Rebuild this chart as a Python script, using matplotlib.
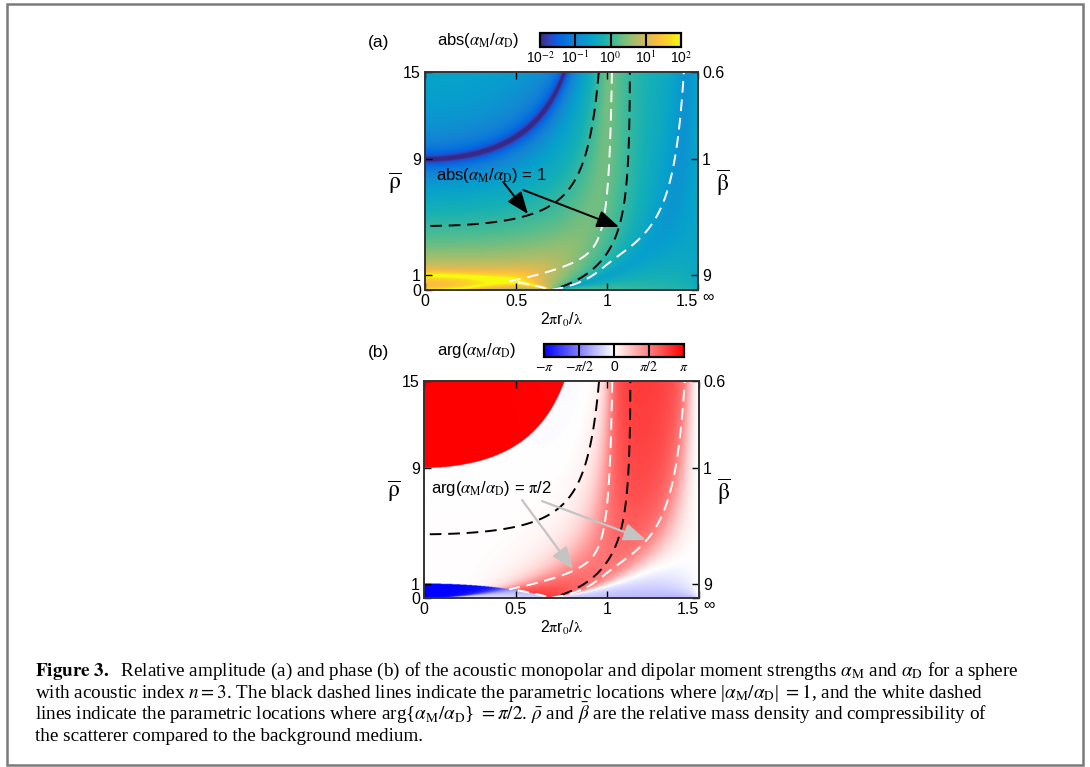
import numpy as np
import matplotlib
matplotlib.use("Agg")
import matplotlib.pyplot as plt
from matplotlib.colors import LinearSegmentedColormap, LogNorm, Normalize
from matplotlib.patches import Rectangle
from matplotlib.ticker import NullLocator

plt.rcParams['font.family'] = ['Liberation Sans', 'DejaVu Sans']
plt.rcParams['mathtext.fontset'] = 'stix'

# ---- sphere / axes parameters
n_index = 3.0                 # acoustic index, beta = n^2 / rho
size_lim = (0.0, 1.5)         # 2*pi*r0/lambda
rho_lim = (0.0, 15.0)
n_size = 600
n_rho = 600

size_ticks = [0, 0.5, 1, 1.5]
size_labels = ['0', '0.5', '1', '1.5']
rho_ticks = [0, 1, 9, 15]
rho_labels = ['0', '1', '9', '15']
beta_labels = ['\u221e', '9', '1', '0.6']

abs_ticks = [1e-2, 1e-1, 1e0, 1e1, 1e2]
abs_labels = ['10$^{-2}$', '10$^{-1}$', '10$^{0}$', '10$^{1}$', '10$^{2}$']
arg_ticks = [-np.pi, -np.pi / 2, 0, np.pi / 2, np.pi]
arg_labels = [r'$-\pi$', r'$-\pi/2$', '0', r'$\pi/2$', r'$\pi$']

# parula (subsampled)
parula_pos = [0, 4, 7, 10, 16, 22, 28, 34, 40, 46, 52, 55, 58, 63]
parula_rgb = [(0.2081, 0.1663, 0.5292), (0.1959, 0.2645, 0.7279), (0.0591, 0.3598, 0.8683),
              (0.0165, 0.4266, 0.8786), (0.0793, 0.5200, 0.8312), (0.0239, 0.6287, 0.8038),
              (0.0843, 0.6928, 0.7062), (0.3022, 0.7376, 0.5712), (0.5709, 0.7485, 0.4494),
              (0.7858, 0.7356, 0.3633), (0.9739, 0.7314, 0.2666), (0.9955, 0.7861, 0.1967),
              (0.9697, 0.8481, 0.1475), (0.9763, 0.9831, 0.0538)]
parula = LinearSegmentedColormap.from_list(
    'parula', list(zip([p / 63 for p in parula_pos], parula_rgb)))

# arrows (data coords): (tail, head)
arrows_a = [((0.43, 7.43), (0.566, 5.23)), ((0.54, 6.88), (1.066, 4.34))]
arrows_b = [((0.535, 6.77), (0.813, 1.99)), ((0.644, 6.70), (1.211, 4.01))]

amd = r'$\alpha_{\rm M}$/$\alpha_{\rm D}$'
caption = [
    r'$\mathbf{Figure\ 3.}$  Relative amplitude (a) and phase (b) of the acoustic monopolar and dipolar moment strengths $\alpha_{\rm M}$ and $\alpha_{\rm D}$ for a sphere',
    r'with acoustic index $n = 3$. The black dashed lines indicate the parametric locations where |$\alpha_{\rm M}/\alpha_{\rm D}$| $= 1$, and the white dashed',
    r'lines indicate the parametric locations where arg{$\alpha_{\rm M}/\alpha_{\rm D}$} $= \pi/2$. $\bar{\rho}$ and $\bar{\beta}$ are the relative mass density and compressibility of',
    r'the scatterer compared to the background medium.',
]
caption_y = [676, 697.6, 719.6, 741]


# ---- monopole / dipole Mie coefficients of a fluid sphere
def sph01(z):
    s, c = np.sin(z), np.cos(z)
    j0 = s / z
    j1 = s / z**2 - c / z
    y0 = -c / z
    y1 = -c / z**2 - s / z
    return j0, j1, y0, y1


x = np.linspace(1e-3, size_lim[1], n_size)
rho = np.linspace(0.01, rho_lim[1], n_rho)
X, R = np.meshgrid(x, rho)
Y = n_index * X
g = n_index / R

j0x, j1x, y0x, y1x = sph01(X)
j0y, j1y, _, _ = sph01(Y)
h0x = j0x + 1j * y0x
h1x = j1x + 1j * y1x
dj0x, dj0y, dh0x = -j1x, -j1y, -h1x
dj1x = j0x - 2 * j1x / X
dj1y = j0y - 2 * j1y / Y
dh1x = h0x - 2 * h1x / X

a0 = (g * dj0y * j0x - dj0x * j0y) / (dh0x * j0y - g * dj0y * h0x)
a1 = (g * dj1y * j1x - dj1x * j1y) / (dh1x * j1y - g * dj1y * h1x)
ratio = a0 / (3 * a1)
amp = np.abs(ratio)
phase = np.angle(ratio)
amp_masked = np.ma.masked_where(R < 0.2, amp)
phase_masked = np.ma.masked_where(amp < 0.05, phase)

# ---- figure
fig = plt.figure(figsize=(10.9, 7.67), dpi=100)
fig.patches.append(Rectangle((0.0064, 0.0026), 0.9872, 0.9922, transform=fig.transFigure,
                             fill=False, ec='#7a7a7a', lw=1.8))

ax_a = fig.add_axes([0.3899, 0.6219, 0.2505, 0.2842])
ax_b = fig.add_axes([0.3890, 0.2203, 0.2523, 0.2829])
cax_a = fig.add_axes([0.4954, 0.9387, 0.1294, 0.0183])
cax_b = fig.add_axes([0.4991, 0.5346, 0.1284, 0.0170])

extent = [x[0], x[-1], rho[0], rho[-1]]
im_a = ax_a.imshow(amp, origin='lower', extent=extent, aspect='auto', cmap=parula,
                   norm=LogNorm(1e-2, 1e2), interpolation='bilinear')
im_b = ax_b.imshow(phase, origin='lower', extent=extent, aspect='auto', cmap='bwr',
                   norm=Normalize(-np.pi, np.pi), interpolation='bilinear')

dash = [(0, (6, 3.5))]
for ax in (ax_a, ax_b):
    ax.contour(x, rho, amp_masked, levels=[1], colors='k', linewidths=1.4, linestyles=dash)
    ax.contour(x, rho, phase_masked, levels=[np.pi / 2], colors='w', linewidths=1.4,
               linestyles=dash)
    ax.set_xlim(size_lim)
    ax.set_ylim(rho_lim)
    ax.set_xticks(size_ticks)
    ax.set_xticklabels(size_labels)
    ax.get_xticklabels()[-1].set_ha('right')
    ax.set_yticks(rho_ticks)
    ax.set_yticklabels(rho_labels)
    ax.tick_params(direction='in', top=True, length=5, width=1, labelsize=11.5, pad=3)
    for s in ax.spines.values():
        s.set_linewidth(1.2)
        s.set_color('#333333')
    ax.set_xlabel(r'2$\mathrm{\pi}$r$_0$/$\mathrm{\lambda}$', fontsize=11.5, labelpad=1)
    ax.text(-0.11, 0.49, r'$\overline{\mathrm{\rho}}$', transform=ax.transAxes, fontsize=17,
            ha='center', va='center')
    ax.text(1.09, 0.49, r'$\overline{\mathrm{\beta}}$', transform=ax.transAxes, fontsize=17,
            ha='center', va='center')
    tw = ax.twinx()
    tw.set_ylim(rho_lim)
    tw.set_yticks(rho_ticks)
    tw.set_yticklabels(beta_labels)
    tw.get_yticklabels()[0].set_va('top')
    tw.tick_params(direction='in', length=5, width=1, labelsize=11.5, pad=3)
    for s in tw.spines.values():
        s.set_linewidth(1.2)
        s.set_color('#333333')

ax_a.text(0.06, 7.9, 'abs(' + amd + ') = 1', fontsize=12, va='center')
for tail, head in arrows_a:
    ax_a.annotate('', xy=head, xytext=tail,
                  arrowprops=dict(arrowstyle='-|>,head_length=0.9,head_width=0.35',
                                  mutation_scale=15, color='k', lw=1.4,
                                  shrinkA=0, shrinkB=0))
ax_b.text(0.038, 7.6, 'arg(' + amd + r') = $\mathrm{\pi}$/2', fontsize=12, va='center')
for tail, head in arrows_b:
    ax_b.annotate('', xy=head, xytext=tail,
                  arrowprops=dict(arrowstyle='-|>,head_length=0.9,head_width=0.35',
                                  mutation_scale=15, color='#c4c4c4', lw=1.6,
                                  shrinkA=0, shrinkB=0))

# colorbars
cb_a = fig.colorbar(im_a, cax=cax_a, orientation='horizontal', ticks=abs_ticks)
cb_a.ax.set_xticklabels(abs_labels)
cb_a.ax.xaxis.set_minor_locator(NullLocator())
for v in abs_ticks[1:-1]:
    cax_a.axvline(v, color='k', lw=1.5)
cb_b = fig.colorbar(im_b, cax=cax_b, orientation='horizontal', ticks=arg_ticks)
cb_b.ax.set_xticklabels(arg_labels)
for v in arg_ticks[1:-1]:
    cax_b.axvline(v, color='k', lw=1.5)
for cb in (cb_a, cb_b):
    cb.outline.set_linewidth(1.6)
    cb.ax.tick_params(length=0, labelsize=10, pad=2)

fig.text(368 / 1090, 1 - 42 / 767, '(a)', fontsize=12.5, va='center')
fig.text(437 / 1090, 1 - 40 / 767, 'abs(' + amd + ')', fontsize=12, va='center')
fig.text(368 / 1090, 1 - 352 / 767, '(b)', fontsize=12.5, va='center')
fig.text(437 / 1090, 1 - 350 / 767, 'arg(' + amd + ')', fontsize=12, va='center')

for line, yb in zip(caption, caption_y):
    fig.text(35 / 1090, 1 - yb / 767, line, fontsize=13.8,
             family='Liberation Serif', va='baseline')

fig.savefig('out.png', dpi=100)
